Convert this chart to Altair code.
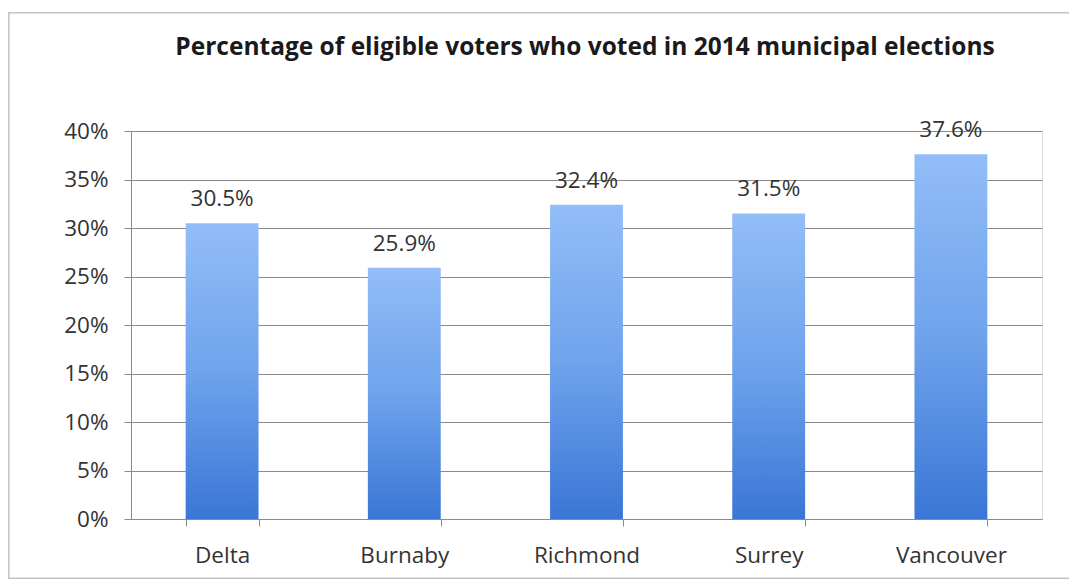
import altair as alt
import pandas as pd

cities = ["Delta", "Burnaby", "Richmond", "Surrey", "Vancouver"]
turnout = [30.5, 25.9, 32.4, 31.5, 37.6]
labels = ["30.5%", "25.9%", "32.4%", "31.5%", "37.6%"]
title_text = ["Percentage of eligible voters who voted in 2014 municipal elections"]

df = pd.DataFrame({"city": cities, "value": [v / 100 for v in turnout], "label": labels})

FONT = "Open Sans"
FS = 22.5

x = alt.X("city:N", sort=cities, title=None,
          scale=alt.Scale(paddingInner=0.6, paddingOuter=0.3),
          axis=alt.Axis(labelAngle=0, labelFontSize=FS, labelColor="#333333", labelFont=FONT,
                        labelPadding=18, domainColor="#8a8a8a", tickColor="#8a8a8a",
                        tickBand="extent", tickSize=7, grid=False))
y = alt.Y("value:Q", title=None,
          scale=alt.Scale(domain=[0, 0.4], nice=False),
          axis=alt.Axis(format=".0%", values=[0, 0.05, 0.1, 0.15, 0.2, 0.25, 0.3, 0.35, 0.4],
                        labelFontSize=FS, labelColor="#333333", labelFont=FONT, labelPadding=16,
                        domainColor="#8a8a8a", tickColor="#8a8a8a", tickSize=7,
                        gridColor="#8a8a8a", gridWidth=1))

bars = alt.Chart(df).mark_bar(
    color=alt.Gradient(gradient="linear",
                       stops=[alt.GradientStop(color="#92bdf8", offset=0),
                              alt.GradientStop(color="#6fa3ec", offset=0.5),
                              alt.GradientStop(color="#3a76d6", offset=1)],
                       x1=0, x2=0, y1=0, y2=1)
).encode(x=x, y=y)

text = alt.Chart(df).mark_text(baseline="alphabetic", dy=-17, fontSize=FS, font=FONT,
                               color="#333333").encode(x=alt.X("city:N", sort=cities), y="value:Q",
                                                       text="label:N")

one = pd.DataFrame({"f": [0]})
frame_style = dict(color="#c4c4c4", strokeWidth=0)
frame_left = alt.Chart(one).mark_rect(**frame_style).encode(
    x=alt.value(-123), x2=alt.value(-121.5), y=alt.value(-119), y2=alt.value(448))
frame_top = alt.Chart(one).mark_rect(**frame_style).encode(
    x=alt.value(-123), x2=alt.value(960), y=alt.value(-119), y2=alt.value(-117.5))
frame_bottom = alt.Chart(one).mark_rect(**frame_style).encode(
    x=alt.value(-123), x2=alt.value(960), y=alt.value(446.5), y2=alt.value(448))

title = alt.Chart(pd.DataFrame({"t": title_text})).mark_text(
    font=FONT, fontSize=24.5, fontWeight="bold", color="#1a1a1a",
    align="center", baseline="middle"
).encode(x=alt.value(454), y=alt.value(-83), text="t:N")

chart = alt.layer(frame_left, frame_top, frame_bottom, bars, text, title).properties(
    width=911, height=388,
    autosize=alt.AutoSizeParams(type="none"),
    padding={"left": 123, "top": 123, "right": 27, "bottom": 61},
).configure_view(strokeWidth=0).configure(background="white")

chart.save("out.html", embed_options={"renderer": "svg", "actions": False})
